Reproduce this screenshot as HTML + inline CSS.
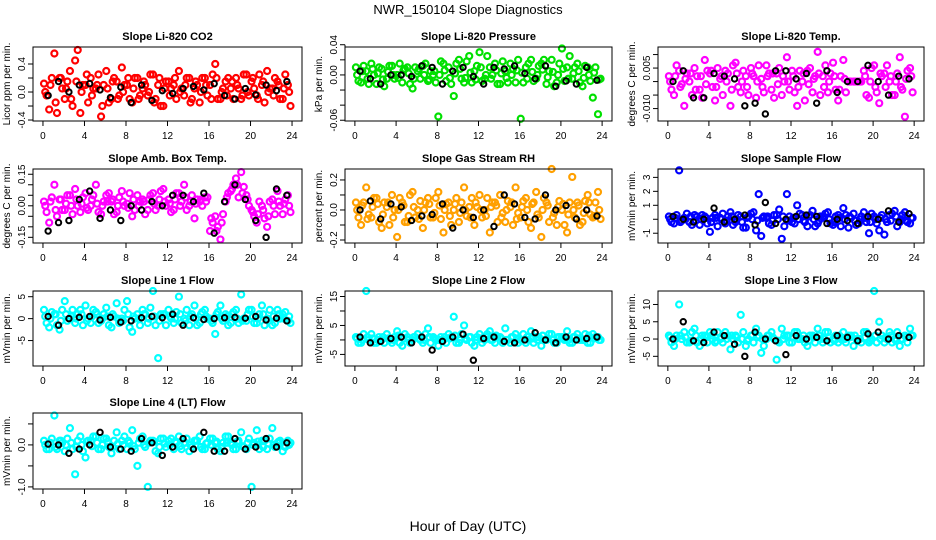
<!DOCTYPE html>
<html><head><meta charset="utf-8">
<style>
html,body{margin:0;padding:0;background:#fff;}
svg{display:block;font-family:"Liberation Sans",sans-serif;}
</style></head>
<body>
<svg id="chart" width="936" height="540" viewBox="0 0 936 540" xmlns="http://www.w3.org/2000/svg">
<rect width="936" height="540" fill="#fff"/>
<text x="468" y="14" text-anchor="middle" font-size="13">NWR_150104  Slope Diagnostics</text>
<text x="468" y="531" text-anchor="middle" font-size="14">Hour of Day (UTC)</text>
</svg>
<script>
// ---- shared hour categories ----
const hoursA = [0.1,0.6,1.1,1.6,2.1,2.6,3.1,3.6,4.1,4.6,5.1,5.6,6.1,6.6,7.1,7.6,8.1,8.6,9.1,9.6,10.1,10.6,11.1,11.6,12.1,12.6,13.1,13.6,14.1,14.6,15.1,15.6,16.1,16.6,17.1,17.6,18.1,18.6,19.1,19.6,20.1,20.6,21.1,21.6,22.1,22.6,23.1,23.6];
const hoursB = [0.35,0.85,1.35,1.85,2.35,2.85,3.35,3.85,4.35,4.85,5.35,5.85,6.35,6.85,7.35,7.85,8.35,8.85,9.35,9.85,10.35,10.85,11.35,11.85,12.35,12.85,13.35,13.85,14.35,14.85,15.35,15.85,16.35,16.85,17.35,17.85,18.35,18.85,19.35,19.85,20.35,20.85,21.35,21.85,22.35,22.85,23.35,23.85];
const hoursC = [0.22,0.72,1.22,1.72,2.22,2.72,3.22,3.72,4.22,4.72,5.22,5.72,6.22,6.72,7.22,7.72,8.22,8.72,9.22,9.72,10.22,10.72,11.22,11.72,12.22,12.72,13.22,13.72,14.22,14.72,15.22,15.72,16.22,16.72,17.22,17.72,18.22,18.72,19.22,19.72,20.22,20.72,21.22,21.72,22.22,22.72,23.22,23.72];
const hoursK = [0.5,1.5,2.5,3.5,4.5,5.5,6.5,7.5,8.5,9.5,10.5,11.5,12.5,13.5,14.5,15.5,16.5,17.5,18.5,19.5,20.5,21.5,22.5,23.5];
const xTicks = [0,4,8,12,16,20,24];

// ---- series values ----
const co2A = [0.12,-0.25,0.55,0.2,-0.1,0.3,0.45,-0.3,0.1,0.2,0.05,-0.35,0.3,-0.1,0.15,0.35,0.1,-0.15,0.2,0.05,-0.05,0.25,0.1,-0.2,0.15,0.1,0.3,-0.05,0.2,0.05,-0.15,0.2,0.1,0.4,-0.1,0.15,0.05,0.2,-0.1,0.25,0.15,-0.05,0.1,0.3,0.05,0.15,-0.1,0.1];
const co2B = [-0.05,0.2,-0.3,0.05,0.15,-0.2,0.6,0.1,-0.15,0.05,0.25,0.1,-0.15,0.2,-0.05,0.1,-0.1,0.2,-0.05,0.1,0.25,-0.1,-0.2,0.15,0.05,-0.1,0.05,0.2,-0.1,0.1,0.2,-0.05,0.25,-0.1,0.05,0.2,-0.1,0.05,0.25,-0.05,0.05,0.25,-0.15,0.05,0.2,-0.1,0.25,-0.2];
const co2C = [0.0,0.1,-0.15,0.2,0.05,-0.1,0.15,0.0,0.25,-0.05,0.1,-0.2,0.05,0.15,-0.1,0.0,0.2,0.05,-0.1,0.15,0.0,-0.15,0.2,0.05,-0.05,0.2,0.0,0.1,-0.15,0.15,0.0,0.1,-0.1,0.2,0.0,-0.05,0.15,0.1,-0.05,0.0,0.2,-0.1,0.15,0.0,-0.05,0.1,0.05,0.0];
const co2K = [-0.05,0.15,0.0,0.1,0.12,0.03,-0.08,0.07,-0.15,0.1,-0.12,0.02,-0.02,0.05,0.08,0.03,0.12,-0.05,-0.1,0.05,-0.04,0.1,0.02,0.15];

const presA = [0.01,-0.01,0.005,0.015,-0.012,0.008,-0.005,0.012,0.0,-0.01,0.01,-0.018,0.005,0.012,-0.008,0.0,-0.055,0.015,0.01,-0.028,0.02,-0.01,0.025,0.005,0.03,-0.005,0.01,0.015,-0.012,0.005,0.015,-0.01,-0.058,0.01,0.02,-0.005,0.015,-0.012,0.02,-0.01,0.035,0.01,-0.005,0.015,-0.015,0.01,-0.03,-0.052];
const presB = [-0.008,0.012,-0.012,0.0,0.01,-0.015,0.012,-0.005,0.015,0.008,-0.012,0.01,-0.005,0.015,0.005,-0.01,0.018,-0.008,-0.012,0.015,-0.005,0.018,-0.01,0.012,-0.008,0.025,0.0,-0.012,0.018,-0.01,0.008,0.02,-0.01,0.015,-0.008,0.012,0.02,0.005,-0.015,0.015,-0.008,0.025,0.01,-0.01,0.012,-0.008,0.01,-0.005];
const presC = [0.0,0.005,-0.005,0.008,0.002,-0.006,0.004,0.0,-0.004,0.006,0.002,-0.005,0.008,0.0,-0.006,0.005,0.0,0.006,-0.004,0.002,0.008,-0.004,0.003,-0.006,0.01,0.0,-0.005,0.006,0.002,-0.004,0.0,0.006,0.003,-0.005,0.004,0.0,0.007,-0.003,0.004,0.0,0.008,-0.005,0.002,0.005,-0.004,0.0,0.003,-0.006];
const presK = [0.005,-0.005,-0.012,0.0,0.0,-0.002,0.012,0.01,-0.012,0.005,0.01,-0.002,-0.012,0.01,0.008,0.012,0.002,-0.005,0.012,-0.015,-0.008,-0.012,0.01,-0.007];

const tempA = [0.002,-0.005,0.004,-0.009,0.0,0.005,-0.003,0.008,0.003,-0.007,0.001,0.004,-0.009,0.007,-0.004,0.002,0.005,-0.006,0.001,0.006,-0.003,0.003,-0.005,0.009,0.004,-0.009,0.0,0.004,-0.004,0.011,0.002,-0.004,0.007,-0.007,0.008,0.0,0.0,0.0,0.004,-0.006,0.006,-0.008,0.003,0.0,-0.005,0.009,-0.013,0.005];
const tempB = [-0.003,0.006,-0.001,0.003,-0.005,0.002,-0.006,0.004,-0.002,0.005,-0.005,0.003,0.006,-0.002,0.004,-0.005,0.002,0.006,-0.004,0.003,-0.006,0.005,0.0,-0.003,-0.004,0.004,-0.007,0.005,0.002,-0.005,0.006,0.003,-0.003,0.002,-0.004,0.0,0.0,0.0,-0.005,0.005,-0.004,0.002,0.006,-0.005,0.003,-0.003,0.004,-0.004];
const tempC = [0.0,0.002,-0.002,0.001,0.003,-0.003,0.002,-0.001,0.004,-0.002,0.002,0.0,-0.003,0.003,0.0,-0.002,0.003,0.0,-0.002,0.002,0.003,-0.001,0.002,0.0,0.002,-0.002,0.003,-0.001,0.001,0.003,-0.002,0.0,0.002,-0.003,0.001,0.0,0.0,0.0,0.002,0.0,-0.002,0.003,-0.002,0.002,0.0,-0.002,0.001,0.002];
const tempK = [0.0,0.004,-0.006,-0.006,0.003,0.002,0.001,-0.009,-0.008,-0.012,0.004,0.004,0.001,0.003,-0.008,0.004,-0.004,0.0,0.0,0.006,0.0,-0.005,0.002,0.001];

const ambA = [0.02,-0.08,0.1,0.03,-0.02,0.05,0.08,-0.03,0.06,0.0,0.1,-0.04,0.05,0.02,-0.03,0.07,0.01,-0.05,0.05,0.03,-0.02,0.06,0.0,0.08,0.03,-0.02,0.06,0.1,0.0,-0.06,0.02,0.04,-0.12,-0.05,-0.16,0.02,0.07,0.13,0.16,0.05,-0.02,-0.08,0.0,-0.1,0.03,0.07,-0.04,0.05];
const ambB = [-0.03,0.04,-0.05,-0.02,0.05,-0.04,0.0,0.04,-0.02,0.05,-0.03,0.02,0.06,-0.04,0.04,0.0,0.06,-0.02,0.02,-0.04,0.05,-0.02,0.07,0.0,-0.03,0.06,0.02,-0.02,0.05,0.03,0.0,0.04,-0.08,-0.1,-0.04,0.06,0.1,0.04,0.09,0.0,-0.05,0.02,-0.06,0.02,-0.04,0.0,0.03,-0.03];
const ambC = [0.0,0.02,-0.02,0.03,0.01,0.0,0.03,0.01,-0.01,0.03,0.01,0.0,0.02,0.03,0.0,0.02,-0.01,0.03,0.0,0.02,0.03,0.01,0.03,0.02,0.01,0.03,0.0,0.04,0.02,0.01,0.03,0.02,-0.06,-0.12,-0.08,0.04,0.08,0.1,0.06,0.03,-0.03,-0.04,-0.02,-0.05,0.0,0.02,0.01,0.0];
const ambK = [-0.12,-0.08,-0.07,0.03,0.07,-0.06,-0.02,-0.07,0.0,-0.02,0.02,0.0,0.05,0.05,0.02,0.06,-0.13,0.02,0.1,0.03,-0.07,-0.15,0.08,0.05];

const rhA = [0.05,-0.1,0.15,-0.05,0.08,-0.12,0.02,0.1,-0.18,0.05,-0.08,0.12,0.0,-0.12,0.08,-0.05,0.12,-0.15,0.05,0.0,-0.08,0.15,0.02,-0.1,0.1,0.0,-0.15,0.05,0.1,-0.08,0.02,0.15,-0.05,0.08,-0.12,0.12,-0.18,0.05,0.28,-0.1,0.0,-0.15,0.22,0.05,-0.08,0.1,-0.05,0.12];
const rhB = [-0.05,0.05,-0.03,0.08,-0.08,0.05,-0.1,0.0,0.08,-0.08,0.1,-0.05,0.06,0.05,-0.05,0.08,-0.06,0.04,-0.1,0.08,0.05,-0.04,0.08,0.02,-0.05,0.08,0.05,-0.08,-0.02,0.06,-0.1,-0.02,0.06,-0.08,0.05,-0.05,0.08,-0.08,-0.02,0.06,-0.1,0.05,-0.05,-0.1,0.06,-0.03,0.05,-0.06];
const rhC = [0.0,0.03,-0.06,0.02,0.04,-0.03,0.05,-0.05,0.0,0.03,-0.04,0.02,-0.06,0.0,0.04,-0.02,0.03,0.0,-0.04,0.04,-0.02,0.0,-0.05,0.05,0.0,-0.04,0.02,0.03,-0.05,0.0,0.05,-0.06,0.02,0.0,0.04,-0.03,0.0,0.03,-0.05,0.02,0.04,-0.03,0.0,0.03,-0.02,0.05,-0.04,0.0];
const rhK = [0.0,0.06,-0.06,0.04,0.02,-0.07,-0.04,-0.03,0.04,-0.12,0.0,-0.05,0.0,-0.11,0.1,0.04,-0.05,-0.06,0.1,0.0,0.03,-0.06,0.0,-0.04];

const sfA = [0.2,-0.3,3.5,0.1,-0.2,0.3,-0.4,0.2,-0.9,0.3,0.1,-0.3,0.5,-0.2,0.2,-0.6,0.4,-0.8,-1.2,0.1,-0.4,0.3,-1.4,1.8,-0.2,1.0,0.3,-0.5,0.6,-0.3,0.2,0.5,-0.4,0.3,0.8,-0.6,0.4,-0.3,0.5,-1.0,0.2,-0.8,-1.1,0.3,0.6,-0.2,0.5,-0.3];
const sfB = [-0.2,0.3,-0.1,0.4,-0.4,0.2,0.3,-0.3,0.1,-0.5,0.4,0.2,-0.4,0.3,-0.6,0.2,0.5,1.8,0.2,-0.3,0.3,0.7,-0.5,0.2,-0.3,0.4,-0.2,0.3,-0.5,0.2,0.4,-0.3,0.2,-0.5,0.3,0.1,-0.4,0.2,-0.2,0.4,-0.3,0.3,-0.2,0.4,-0.5,0.3,-0.2,0.1];
const sfC = [0.0,0.1,-0.2,0.0,0.2,-0.1,0.0,0.1,-0.2,0.1,0.0,-0.1,0.2,0.0,-0.2,0.1,0.0,-0.1,0.1,0.2,-0.1,0.0,0.2,-0.1,0.1,0.0,-0.1,0.2,0.0,-0.1,0.1,0.0,-0.2,0.1,0.0,0.2,-0.1,0.0,0.1,-0.2,0.0,0.1,0.0,-0.1,0.2,0.0,-0.1,0.1];
const sfK = [0.2,0.0,-0.2,0.0,0.8,-0.2,0.0,0.3,-0.4,1.2,-0.3,0.0,0.2,0.3,0.2,-0.3,0.0,-0.1,-0.3,0.2,0.0,0.6,-0.2,0.4];

const l1A = [2,-2,1,-2.5,4,0,-1,2,3,-1,1.5,-0.5,2.5,-2,3.5,0,4,-3,1,2,-1,6.5,-9,1,2,-1,5,0,-1.5,3,-1,2,0,-3.5,3,1,-1,2,5.5,-0.5,2,-1,3,0,-1.5,2,1,-0.5];
const l1B = [-1,1.5,-1.5,2,-0.5,2,1,-1.5,0,2,-1,1,-1.5,0.5,-1,2,-2,0,-1.5,1,2.5,-1.5,1,-1.5,0,1.5,-1,2,1,-1.5,1.5,0,-1,1.5,-0.5,-1.5,1.5,-1,0,2,-1,1,-1.5,2,-1,0,1.5,-1];
const l1C = [0.5,0,1,-0.5,1,0.5,0,1,-0.5,0.5,1,0,0.5,1,0,-0.5,1,0.5,0,1,0,0.5,-0.5,1,0.5,0,1,-0.5,0.5,0,1,0.5,-0.5,1,0,0.5,1,0,-0.5,1,0.5,0,1,-0.5,0.5,1,0,0.5];
const l1K = [0.5,-1.5,0,0.3,0.5,-0.3,0.3,-0.8,-0.5,0.2,0.5,0.2,1.0,-1.5,0.2,-0.2,0,0.2,0.3,0.1,0.5,-0.3,0.1,-0.5];

const l2A = [1,-1,17,2,-1,0,2,-1,3,-2,1,0,2,-1,4,1,-2,0,2,8,-1,5,1,-2,2,0,3,-1,1,4,-1,2,0,-1,3,1,-2,0,2,-1,1,3,-1,2,0,-1,2,1];
const l2B = [-1,2,0,-1,1,-1,0,1,-1,2,-1,1,0,2,-1,0,1,-1,1,-1,2,0,-1,1,-1,2,0,1,-1,0,1,-1,2,0,-1,1,0,2,-1,1,0,-1,1,0,2,-1,1,0];
const l2C = [0.5,0,1,0.5,0,1,0.5,0,1.5,0.5,0,1,0.5,0,1,0.5,0,1,0.5,1.5,0,0.5,1,0,0.5,1,0,1.5,0.5,0,1,0.5,0,1,0.5,0,1.5,0.5,0,1,0.5,0,1,0.5,0,1.5,0.5,0];
const l2K = [1,-1,-0.5,0.5,1,-1,1,-3.5,-0.5,1,2,-7,0.5,1,-0.5,-1,0,2.5,0,-1,1,0,0.5,1];

const l3A = [1,-2,10,2,-1,3,-2,1,2,-1,0,2,-3,1,7,-2,1,3,-4,0,2,-6,3,1,-1,2,0,-2,1,3,-1,2,0,-1,2,1,-2,0,2,-1,14,5,-1,2,0,-2,1,3];
const l3B = [-1,1,0,-1,2,-1,1,-1,0,2,-1,1,0,-1,2,0,-1,1,-2,1,0,-1,1,-1,2,0,-1,1,-1,0,2,-1,1,0,-1,1,0,-1,2,0,-1,1,0,-1,2,0,-1,1];
const l3C = [0.5,0,1,0.5,-0.5,1,0,0.5,1,-0.5,0.5,0,1,0.5,0,-0.5,1,0.5,0,1,0.5,-0.5,0,1,0.5,0,1,-0.5,0.5,1,0,0.5,-0.5,1,0,0.5,1,0,0.5,-0.5,1,0,0.5,1,-0.5,0,0.5,1];
const l3K = [0,5,-0.5,-1,2,1,-1.5,-5,2,0,-0.5,-4.5,1,0,0.5,-0.5,1,0.5,-0.5,1.5,2,0,1,0.5];

const l4A = [0.1,-0.1,0.7,0.1,-0.15,0.4,-0.7,0.2,-0.3,0.1,0.2,-0.1,0.15,-0.2,0.3,0.1,-0.1,0.35,-0.5,0.2,-1.0,0.1,-0.2,0.15,0.1,-0.1,0.2,0.05,-0.15,0.1,0.2,-0.1,0.15,0.05,-0.15,0.2,0.05,-0.1,0.3,-0.1,-1.0,0.35,0.1,-0.1,0.4,0.05,-0.15,0.1];
const l4B = [-0.1,0.15,-0.1,0.05,0.15,-0.1,0.1,-0.15,0.1,0.2,-0.1,0.15,-0.05,0.1,-0.1,0.2,0.05,-0.1,0.15,-0.05,0.1,-0.15,0.15,-0.05,0.15,0.05,-0.1,0.15,-0.05,0.1,-0.1,0.05,0.15,-0.1,0.05,0.2,-0.1,0.1,-0.05,0.15,0.05,-0.1,0.1,0.15,-0.05,0.1,-0.05,0.05];
const l4C = [0.0,0.05,-0.05,0.1,0.0,0.05,-0.05,0.0,0.08,-0.03,0.05,0.0,0.08,-0.05,0.03,0.0,0.1,-0.03,0.05,0.0,0.05,0.08,-0.05,0.03,0.0,0.08,-0.03,0.05,0.0,0.1,-0.05,0.03,0.0,0.08,-0.05,0.05,0.0,0.08,-0.03,0.05,0.0,0.08,-0.05,0.03,0.0,0.08,-0.03,0.0];
const l4K = [0.02,0.0,-0.2,-0.1,0.0,0.3,-0.05,-0.1,-0.15,0.15,0.05,-0.25,-0.05,0.15,-0.1,0.3,-0.15,-0.15,0.15,-0.1,-0.05,0.15,-0.05,0.05];

// ---- y tick labels ----
const co2Ticks = [-0.4,-0.2,0,0.2,0.4];   const co2Labels = ["-0.4","","0.0","","0.4"];
const presTicks = [-0.06,-0.04,-0.02,0,0.02,0.04]; const presLabels = ["-0.06","","","0.00","","0.04"];
const tempTicks = [-0.010,-0.005,0,0.005,0.010]; const tempLabels = ["-0.010","","","0.005",""];
const ambTicks = [-0.15,-0.10,-0.05,0,0.05,0.10,0.15]; const ambLabels = ["-0.15","","","0.00","","","0.15"];
const rhTicks = [-0.2,-0.1,0,0.1,0.2]; const rhLabels = ["-0.2","","0.0","","0.2"];
const sfTicks = [-1,0,1,2,3]; const sfLabels = ["-1","","1","2","3"];
const l1Ticks = [-5,0,5]; const l1Labels = ["-5","0","5"];
const l2Ticks = [-5,0,5,10,15]; const l2Labels = ["-5","","5","","15"];
const l3Ticks = [-5,0,5,10]; const l3Labels = ["-5","0","5","10"];
const l4Ticks = [-1.0,-0.5,0,0.5]; const l4Labels = ["-1.0","","0.0",""];

const NS = "http://www.w3.org/2000/svg";
const svg = document.getElementById('chart');
const colX = [33,345,658], colW = [269,267,266];
const rowY = [47,169,291,413], rowH = [74,74,75,76];

const panels = [
 {key:'co2',title:'Slope Li-820 CO2',ylab:'Licor ppm per min.',color:'#ff0000',ylim:[-0.414,0.643],A:co2A,B:co2B,C:co2C,K:co2K,ticks:co2Ticks,labels:co2Labels,r:0,c:0},
 {key:'pressure',title:'Slope Li-820 Pressure',ylab:'kPa per min.',color:'#00e000',ylim:[-0.061,0.037],A:presA,B:presB,C:presC,K:presK,ticks:presTicks,labels:presLabels,r:0,c:1},
 {key:'temp',title:'Slope Li-820 Temp.',ylab:'degrees C per min.',color:'#ff00ff',ylim:[-0.0146,0.0128],A:tempA,B:tempB,C:tempC,K:tempK,ticks:tempTicks,labels:tempLabels,r:0,c:2},
 {key:'amb-temp',title:'Slope Amb. Box Temp.',ylab:'degrees C per min.',color:'#ff00ff',ylim:[-0.177,0.175],A:ambA,B:ambB,C:ambC,K:ambK,ticks:ambTicks,labels:ambLabels,r:1,c:0},
 {key:'rh',title:'Slope Gas Stream RH',ylab:'percent per min.',color:'#ffa000',ylim:[-0.22,0.273],A:rhA,B:rhB,C:rhC,K:rhK,ticks:rhTicks,labels:rhLabels,r:1,c:1},
 {key:'sample-flow',title:'Slope Sample Flow',ylab:'mVmin per min.',color:'#0000ff',ylim:[-1.7,3.6],A:sfA,B:sfB,C:sfC,K:sfK,ticks:sfTicks,labels:sfLabels,r:1,c:2},
 {key:'line1',title:'Slope Line 1 Flow',ylab:'mVmin per min.',color:'#00ffff',ylim:[-10.8,6.3],A:l1A,B:l1B,C:l1C,K:l1K,ticks:l1Ticks,labels:l1Labels,r:2,c:0},
 {key:'line2',title:'Slope Line 2 Flow',ylab:'mVmin per min.',color:'#00ffff',ylim:[-9,16.9],A:l2A,B:l2B,C:l2C,K:l2K,ticks:l2Ticks,labels:l2Labels,r:2,c:1},
 {key:'line3',title:'Slope Line 3 Flow',ylab:'mVmin per min.',color:'#00ffff',ylim:[-7.8,13.9],A:l3A,B:l3B,C:l3C,K:l3K,ticks:l3Ticks,labels:l3Labels,r:2,c:2},
 {key:'line4',title:'Slope Line 4 (LT) Flow',ylab:'mVmin per min.',color:'#00ffff',ylim:[-1.05,0.76],A:l4A,B:l4B,C:l4C,K:l4K,ticks:l4Ticks,labels:l4Labels,r:3,c:0}
];

function mk(tag, attrs, parent){
  const e = document.createElementNS(NS, tag);
  for (const k in attrs) e.setAttribute(k, attrs[k]);
  parent.appendChild(e);
  return e;
}

panels.forEach(p => {
  const x0 = colX[p.c], w = colW[p.c], y0 = rowY[p.r], h = rowH[p.r];
  const g = mk('g', {}, svg);
  
  
  const xs = v => x0 + w * (v + 0.96) / 25.92;
  const ys = v => y0 + h - h * (v - p.ylim[0]) / (p.ylim[1] - p.ylim[0]);

  const t = mk('text', {x: x0 + w/2, y: y0 - 7, 'text-anchor':'middle', 'font-size':11, 'font-weight':'bold'}, g);
  
  
  t.textContent = p.title;

  const yl = mk('text', {x: 0, y: 0, 'text-anchor':'middle', 'font-size':10, transform:`translate(${x0-23},${y0+h/2}) rotate(-90)`}, g);
  
  
  yl.textContent = p.ylab;

  const pts = mk('g', {fill:'none'}, g);
  
  
  const clip = v => Math.max(p.ylim[0], Math.min(p.ylim[1], v));
  [[hoursC,p.C],[hoursA,p.A],[hoursB,p.B]].forEach(([hs, vs]) => {
    vs.forEach((v, i) => {
      const c = mk('circle', {cx: xs(hs[i]), cy: ys(clip(v)), r: 3, stroke: p.color, 'stroke-width': 2.2}, pts);
      
      
    });
  });
  p.K.forEach((v, i) => {
    const c = mk('circle', {cx: xs(hoursK[i]), cy: ys(clip(v)), r: 2.7, stroke: '#000', 'stroke-width': 2}, pts);
    
    
  });

  const box = mk('rect', {x: x0, y: y0, width: w, height: h, fill:'none', stroke:'#000', 'stroke-width':1}, g);
  
  

  const xa = mk('g', {}, g);
  
  
  mk('line', {x1: xs(0), x2: xs(24), y1: y0+h, y2: y0+h, stroke:'#000'}, xa);
  xTicks.forEach(tv => {
    mk('line', {x1: xs(tv), x2: xs(tv), y1: y0+h, y2: y0+h+5, stroke:'#000'}, xa);
    const tl = mk('text', {x: xs(tv), y: y0+h+18, 'text-anchor':'middle', 'font-size':10}, xa);
    
    
    tl.textContent = tv;
  });
  const ya = mk('g', {}, g);
  
  
  mk('line', {x1: x0, x2: x0, y1: ys(p.ticks[0]), y2: ys(p.ticks[p.ticks.length-1]), stroke:'#000'}, ya);
  p.ticks.forEach((tv, i) => {
    mk('line', {x1: x0-5, x2: x0, y1: ys(tv), y2: ys(tv), stroke:'#000'}, ya);
    if (p.labels[i]) {
      const tl = mk('text', {x: 0, y: 0, 'text-anchor':'middle', 'font-size':10, transform:`translate(${x0-8},${ys(tv)}) rotate(-90)`}, ya);
      
      
      tl.textContent = p.labels[i];
    }
  });
});
</script>
</body></html>
